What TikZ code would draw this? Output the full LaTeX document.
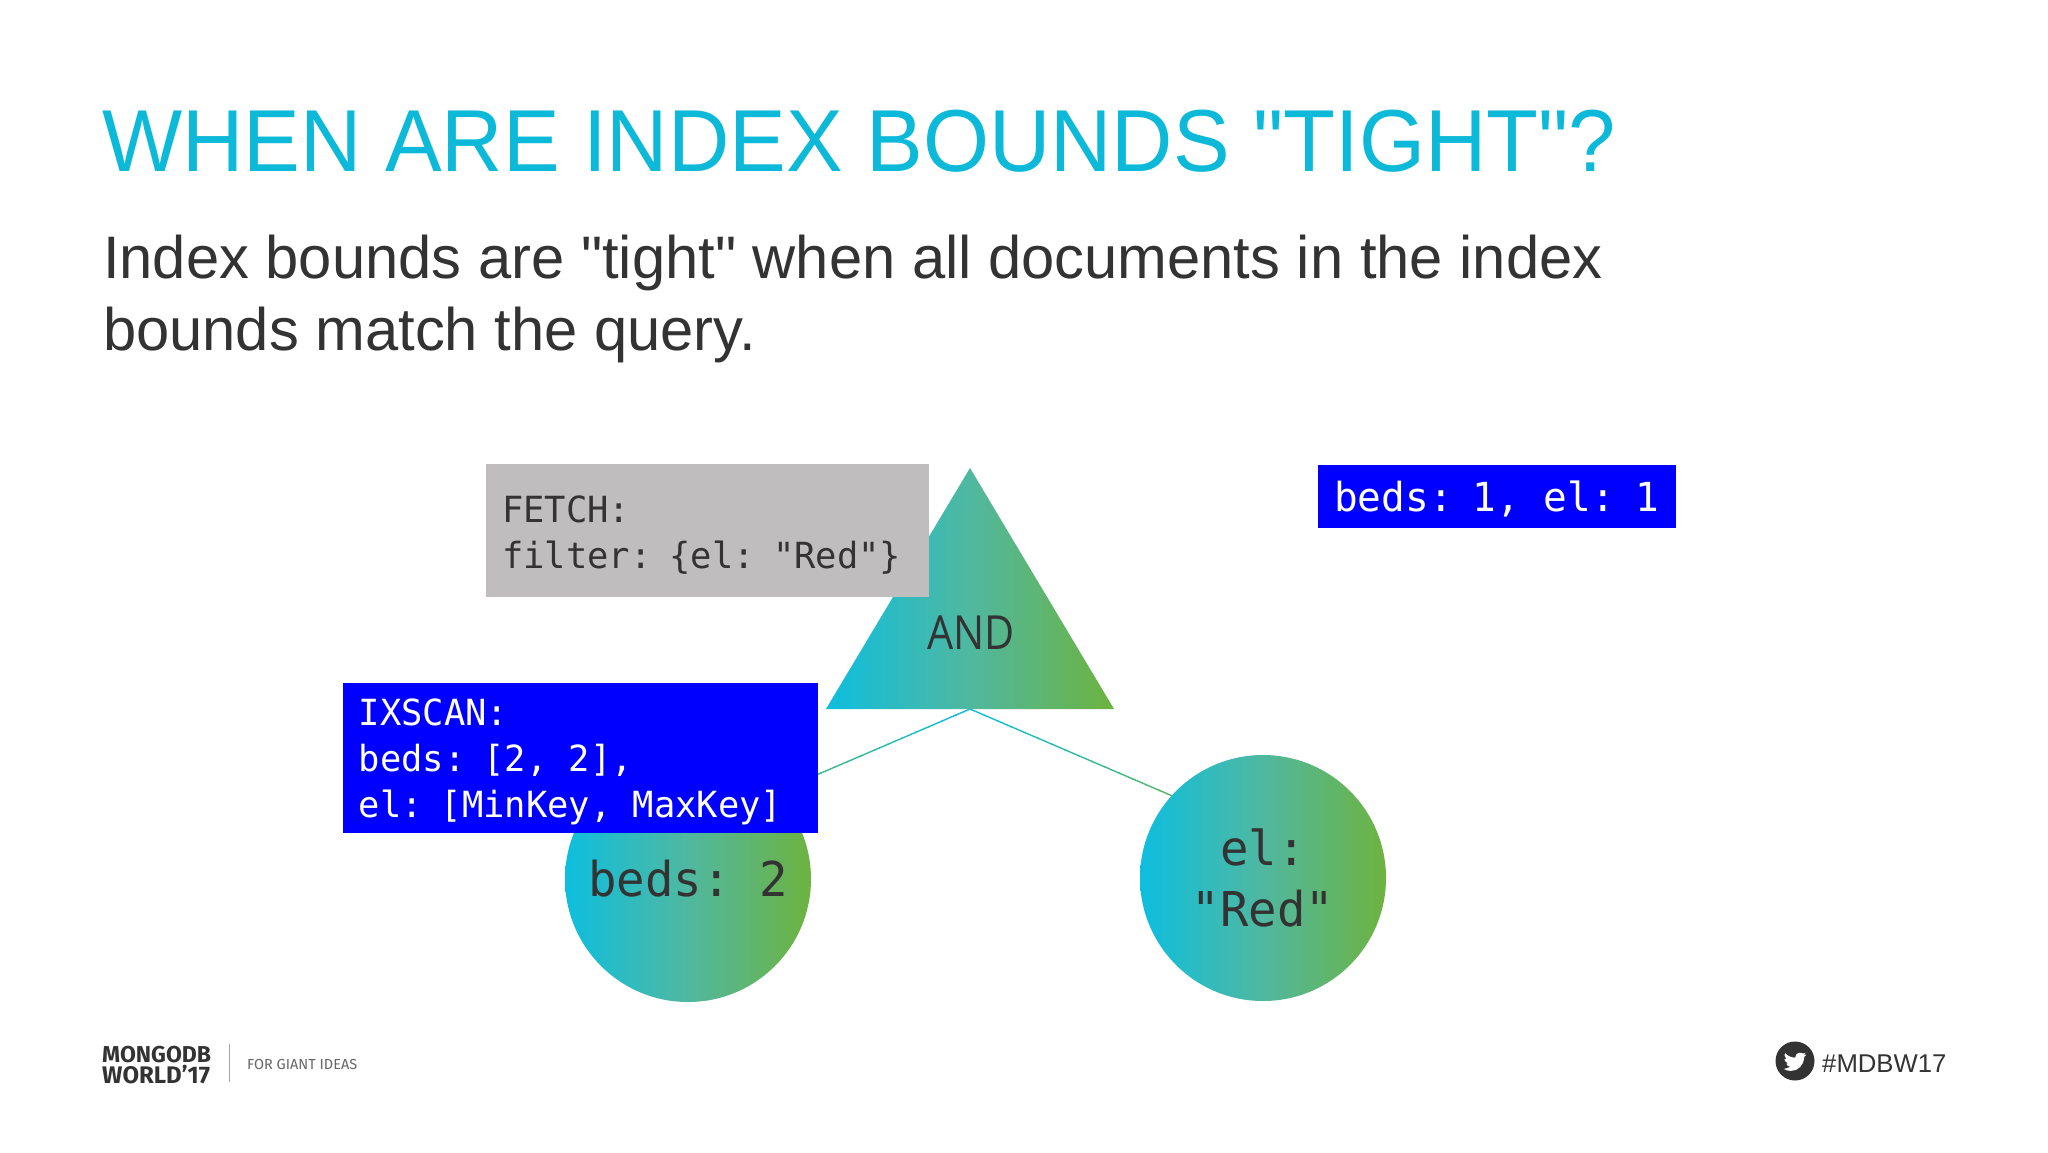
\documentclass[tikz,border=0pt]{standalone}
\usepackage{fontspec}
\newfontfamily\mainf{Liberation Sans}
\newfontfamily\titlef[FakeStretch=0.965]{Liberation Sans}
\newfontfamily\bodyf[FakeStretch=0.995]{Liberation Sans}
\newfontfamily\monof[FakeStretch=0.985,Kerning=Off]{DejaVu Sans Mono}
\newfontfamily\andf[FakeStretch=0.88]{Open Sans}
\newfontfamily\logof{Fira Sans}
\newcommand\monospacing{\spaceskip=0.593em\relax\xspaceskip=0.593em\relax}
\newcommand\commasp{\makebox[0.593em][l]{,}\hspace{0.593em}}
\usetikzlibrary{calc}
\definecolor{titlecol}{HTML}{0DB9D9}
\definecolor{ink}{HTML}{333333}
\definecolor{gcyan}{HTML}{0DBEDF}
\definecolor{ggreen}{HTML}{6DB33F}
\definecolor{gmid}{HTML}{50B8A0}
\definecolor{boxgray}{HTML}{BFBDBE}
\definecolor{boxblue}{HTML}{0000FF}
\tikzset{
  txt/.style={anchor=base west,inner sep=0pt,text=ink},
  mono/.style={font=\monof\fontsize{#1}{46}\selectfont\monospacing},
  grad/.style={left color=gcyan,right color=ggreen,middle color=gmid},
  circ/.style={circle,grad,minimum size=246pt,inner sep=0pt,align=center,text=ink,
    font=\monof\fontsize{48}{61}\selectfont\monospacing},
  codebox/.style={anchor=north west,inner ysep=0pt,inner xsep=16pt,align=left},
}
\begin{document}
\begin{tikzpicture}[x=1pt,y=-1pt]
\useasboundingbox (0,0) rectangle (2048,1152);
\fill[white] (0,0) rectangle (2048,1152);
% title and body
\node[txt,text=titlecol,font=\titlef\fontsize{88}{88}\selectfont] (title) at (102,171) {WHEN ARE INDEX BOUNDS "TIGHT"?};
\node[txt,font=\bodyf\fontsize{60}{72}\selectfont] (line1) at (103,278) {Index bounds are "tight" when all documents in the index};
\node[txt,font=\bodyf\fontsize{60}{72}\selectfont] (line2) at (103,350) {bounds match the query.};
% tree
\coordinate (apex) at (970,468);
\coordinate (bl) at (826,709);
\coordinate (br) at (1114,709);
\coordinate (root) at (970,709);
\coordinate (lend) at (700,825);
\coordinate (rend) at (1240,825);
\foreach \i in {0,...,19}{
  \pgfmathsetmacro{\ta}{\i/20}
  \pgfmathsetmacro{\tb}{(\i+1)/20+0.005}
  \pgfmathsetmacro{\mixv}{100*(1-\i/19)}
  \draw[line width=1.4pt,color=gcyan!\mixv!ggreen] ($(root)!\ta!(lend)$) -- ($(root)!\tb!(lend)$);
  \draw[line width=1.4pt,color=gcyan!\mixv!ggreen] ($(root)!\ta!(rend)$) -- ($(root)!\tb!(rend)$);
}
\shade[grad] (apex) -- (br) -- (bl) -- cycle;
\node[inner sep=0pt,text=ink,font=\andf\fontsize{47}{47}\selectfont] (and) at (971,633) {AND};
\node[circ] (beds) at (688,879) {beds: 2};
\node[circ] (el) at (1263,878) {el:\\"Red"};
% boxes
\node[codebox,fill=boxgray,text=ink,minimum width=443pt,minimum height=133pt,text width=411pt,mono=36] (fetch) at (486,464) {\rule{0pt}{36pt}FETCH:\\filter: \{el: "Red"\}};
\node[codebox,fill=boxblue,text=white,minimum width=475pt,minimum height=150pt,text width=443pt,mono=36] (ixscan) at (342.5,683) {\rule{0pt}{35pt}IXSCAN:\\beds: [2\commasp 2],\\el: [MinKey\commasp MaxKey]};
\node[codebox,fill=boxblue,text=white,minimum width=358pt,minimum height=63pt,text width=326pt,mono=40] (cur) at (1318,465) {\rule{0pt}{36pt}beds: 1\commasp el: 1};
% footer
\node[txt,font=\logof\bfseries\fontsize{23}{24}\selectfont] (logoa) at (102,1062) {MONGODB};
\node[txt,font=\logof\bfseries\fontsize{24}{24}\selectfont] (logob) at (102,1083) {WORLD’17};
\coordinate (diva) at (229,1044);
\coordinate (divb) at (229,1082);
\draw[line width=1pt,color=black!35] (diva) -- (divb);
\node[txt,text=black!60,font=\logof\fontsize{14.5}{16}\selectfont] (tag) at (247,1069) {FOR GIANT IDEAS};
\fill[ink] (1795,1061) circle (19.5);
\begin{scope}[shift={(1783.5,1050)},x=0.96pt,y=-0.96pt]
\fill[white,rounded corners=0.5pt] (24,4.6)--(21.1,5.35)--(23.3,2.6)--(20.2,3.8)--(18.4,2.9)--(16.4,2.85)--(14.2,3.8)--(12.8,5.5)--(12.55,7.3)--(11.8,8.1)--(7.7,7.2)--(4.1,5.6)--(1.64,3.16)--(0.97,5.64)--(3.16,9.73)--(0.93,9.12)--(1.5,11.5)--(4.88,14)--(2.67,14.09)--(4.5,16.5)--(7.27,17.5)--(1.17,19.6)--(0,19.54)--(3.5,21.2)--(7.56,21.75)--(13,20.8)--(17.5,17.5)--(20.5,13)--(21.56,7.77)--(21.55,7.14)--cycle;
\end{scope}
\node[txt,font=\mainf\fontsize{25.7}{27}\selectfont] (tagb) at (1822,1072) {\#MDBW17};
\end{tikzpicture}
\end{document}
